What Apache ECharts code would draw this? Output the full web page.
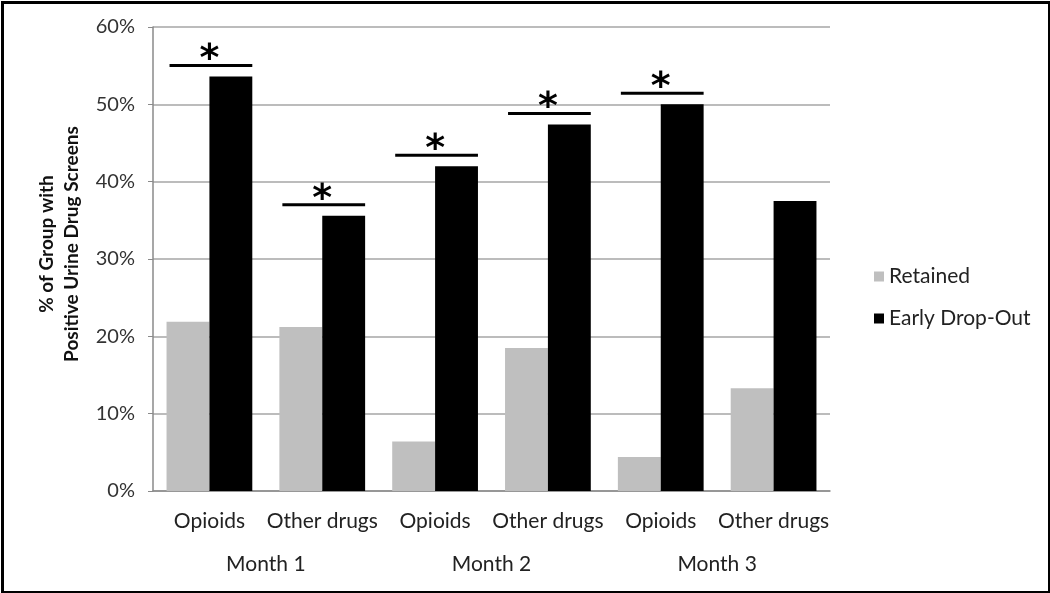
<!DOCTYPE html>
<html><head><meta charset="utf-8">
<script src="https://cdn.jsdelivr.net/npm/echarts@6/dist/echarts.min.js"></script>
<style>html,body{margin:0;padding:0;background:#fff}#c{width:1050px;height:593px}</style>
</head><body><div id="c"></div>
<script>
const categories = ['Opioids','Other drugs','Opioids','Other drugs','Opioids','Other drugs'];
const months = ['Month 1','Month 2','Month 3'];
const retained = [21.9, 21.2, 6.4, 18.5, 4.4, 13.3];
const earlyDropOut = [53.6, 35.6, 42.0, 47.4, 50.0, 37.5];
const significant = [true, true, true, true, true, false];
const yTicks = [0, 10, 20, 30, 40, 50, 60];

const FONT = 'Lato';
const sigData = [];
significant.forEach((s, i) => { if (s) sigData.push([i, earlyDropOut[i]]); });

const chart = echarts.init(document.getElementById('c'), null, {renderer: 'canvas'});
chart.setOption({
  animation: false,
  backgroundColor: '#fff',
  textStyle: {fontFamily: FONT},
  grid: {left: 153, right: 220, top: 27, bottom: 102},
  legend: {
    orient: 'vertical', left: 869, top: 261, itemGap: 21,
    itemWidth: 10, itemHeight: 10, icon: 'rect',
    textStyle: {fontFamily: FONT, fontSize: 21, color: '#222'},
    data: ['Retained', 'Early Drop-Out']
  },
  xAxis: [{
    type: 'category', data: categories, position: 'bottom',
    axisLine: {lineStyle: {color: '#8a8a8a', width: 1.5}},
    axisTick: {show: false},
    axisLabel: {fontFamily: FONT, fontSize: 21, color: '#222', margin: 20, interval: 0}
  }, {
    type: 'category', data: months, position: 'bottom', offset: 50,
    axisLine: {show: false}, axisTick: {show: false},
    axisLabel: {fontFamily: FONT, fontSize: 21, color: '#222', margin: 13, interval: 0}
  }],
  yAxis: {
    type: 'value', min: yTicks[0], max: yTicks[yTicks.length - 1], interval: 10,
    name: '% of Group with\nPositive Urine Drug Screens',
    nameLocation: 'middle', nameGap: 66, nameRotate: 90,
    nameTextStyle: {fontFamily: FONT, fontSize: 19, fontWeight: 'bold', color: '#111', lineHeight: 25, padding: [0, 0, 0, 30]},
    axisLine: {show: true, lineStyle: {color: '#8a8a8a', width: 1.5}},
    axisTick: {show: true, length: 5, lineStyle: {color: '#8a8a8a'}},
    axisLabel: {fontFamily: FONT, fontSize: 20, color: '#333', margin: 18, formatter: v => v + '%'},
    splitLine: {lineStyle: {color: '#a6a6a6', width: 1.5}}
  },
  series: [{
    name: 'Retained', type: 'bar', data: retained,
    itemStyle: {color: '#bfbfbf'}, barGap: '0%', barCategoryGap: '24%'
  }, {
    name: 'Early Drop-Out', type: 'bar', data: earlyDropOut,
    itemStyle: {color: '#000'}
  }, {
    name: 'sig', type: 'custom', data: sigData, clip: false, silent: true,
    renderItem: function (params, api) {
      const p = api.coord([api.value(0), api.value(1)]);
      const band = api.size([1, 0])[0];
      const barW = band * 0.38;
      const y = p[1] - 11;
      return {
        type: 'group',
        children: [{
          type: 'line',
          shape: {x1: p[0] - barW + 3, y1: y, x2: p[0] + barW, y2: y},
          style: {stroke: '#000', lineWidth: 3}
        }, {
          type: 'text',
          style: {
            x: p[0], y: y - 5, text: '*', textAlign: 'center', textVerticalAlign: 'middle',
            font: 'bold 38px "DejaVu Sans"', fill: '#000'
          }
        }]
      };
    }
  }],
  graphic: [{
    type: 'rect', left: 0, top: 0, z: 100, silent: true,
    shape: {x: 1.5, y: 1.5, width: 1047, height: 590},
    style: {fill: 'none', stroke: '#000', lineWidth: 3}
  }]
});
</script></body></html>
